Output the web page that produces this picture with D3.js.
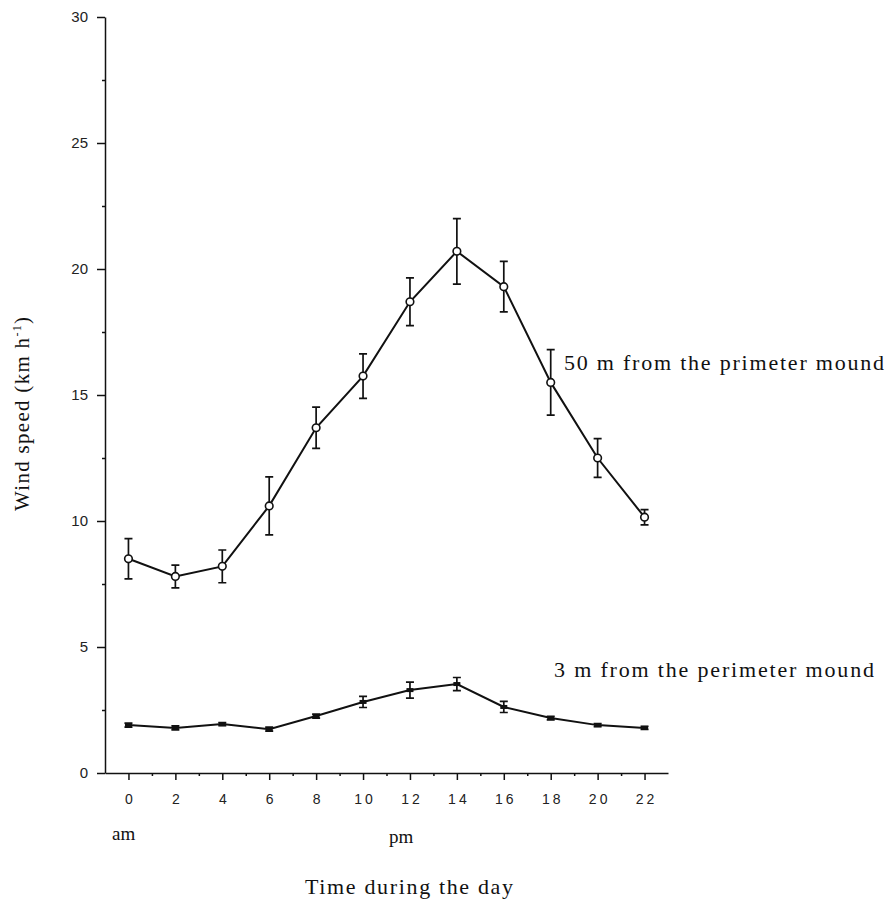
<!DOCTYPE html>
<meta charset="utf-8">
<style>
  html, body { margin: 0; padding: 0; background: #fff; overflow: hidden; }
  .axis path, .axis line { fill: none; stroke: #111; stroke-width: 1.5px; }
  .axis text { font: 15px "Liberation Sans", Arial, sans-serif; fill: #222; }
  .axis--x text { letter-spacing: 3px; font-size: 14px; }
  .serif { font-family: "Liberation Serif", "Times New Roman", serif; fill: #111; }
</style>
<svg></svg>
<script src="https://cdnjs.cloudflare.com/ajax/libs/d3/7.8.5/d3.min.js"></script>
<script>

var hours = [0, 2, 4, 6, 8, 10, 12, 14, 16, 18, 20, 22];
var far = [8.5, 7.8, 8.2, 10.6, 13.7, 15.75, 18.7, 20.7, 19.3, 15.5, 12.5, 10.15];
var farErr = [0.8, 0.45, 0.65, 1.15, 0.82, 0.88, 0.95, 1.3, 1.0, 1.3, 0.77, 0.3];
var near = [1.9, 1.79, 1.94, 1.74, 2.26, 2.82, 3.29, 3.53, 2.62, 2.18, 1.9, 1.79];
var nearErr = [0.08, 0.08, 0.06, 0.08, 0.08, 0.22, 0.32, 0.26, 0.22, 0.07, 0.06, 0.06];
var yTicks = [0, 5, 10, 15, 20, 25, 30];

var width = 888, height = 904;

var svg = d3.select("svg")
    .attr("width", width)
    .attr("height", height);

var x = d3.scaleLinear().domain([-1, 23]).range([105, 668]),
    y = d3.scaleLinear().domain([0, 30]).range([773, 17]);

// y axis, major + minor ticks
svg.append("g")
    .attr("class", "axis axis--y")
    .attr("transform", "translate(" + x(-1) + ",0)")
    .call(d3.axisLeft(y).tickValues(yTicks).tickSize(8).tickSizeOuter(0).tickPadding(9));

svg.append("g")
    .attr("class", "axis axis--y-minor")
    .attr("transform", "translate(" + x(-1) + ",0)")
    .call(d3.axisLeft(y).tickValues(d3.range(2.5, 30, 5)).tickSize(3).tickSizeOuter(0).tickFormat(""))
    .select(".domain").remove();

// x axis
svg.append("g")
    .attr("class", "axis axis--x")
    .attr("transform", "translate(0," + y(0) + ")")
    .call(d3.axisBottom(x).tickValues(hours).tickSize(7).tickSizeOuter(0).tickPadding(14));

svg.append("g")
    .attr("class", "axis axis--x-minor")
    .attr("transform", "translate(0," + y(0) + ")")
    .call(d3.axisBottom(x).tickValues(d3.range(1, 23, 2)).tickSize(3).tickSizeOuter(0).tickFormat(""))
    .select(".domain").remove();

svg.selectAll(".axis--x .tick text").attr("dx", "1.5px");

var farData = hours.map(function(h, i) { return {h: h, v: far[i], e: farErr[i]}; });
var nearData = hours.map(function(h, i) { return {h: h, v: near[i], e: nearErr[i]}; });

var line = d3.line()
    .x(function(d) { return x(d.h); })
    .y(function(d) { return y(d.v); });

function errorBars(data, cls) {
  var g = svg.append("g").attr("class", cls)
      .attr("stroke", "#111").attr("stroke-width", 1.7).attr("fill", "none");
  g.selectAll("path")
    .data(data)
    .enter().append("path")
      .attr("d", function(d) {
        var cx = x(d.h), t = y(d.v + d.e), b = y(d.v - d.e);
        return "M" + (cx - 4) + "," + t + "H" + (cx + 4) +
               "M" + cx + "," + t + "V" + b +
               "M" + (cx - 4) + "," + b + "H" + (cx + 4);
      });
}

// lines
svg.append("path")
    .datum(farData)
    .attr("fill", "none")
    .attr("stroke", "#111")
    .attr("stroke-width", 2)
    .attr("d", line);

svg.append("path")
    .datum(nearData)
    .attr("fill", "none")
    .attr("stroke", "#111")
    .attr("stroke-width", 2)
    .attr("d", line);

errorBars(farData, "err-far");
errorBars(nearData, "err-near");

svg.selectAll(".pt-far")
    .data(farData)
  .enter().append("circle")
    .attr("class", "pt-far")
    .attr("cx", function(d) { return x(d.h); })
    .attr("cy", function(d) { return y(d.v); })
    .attr("r", 3.8)
    .attr("fill", "#fff")
    .attr("stroke", "#111")
    .attr("stroke-width", 1.6);

svg.selectAll(".pt-near")
    .data(nearData)
  .enter().append("rect")
    .attr("class", "pt-near")
    .attr("x", function(d) { return x(d.h) - 3.5; })
    .attr("y", function(d) { return y(d.v) - 2; })
    .attr("width", 7)
    .attr("height", 4)
    .attr("fill", "#111");

// labels
svg.append("text")
    .attr("class", "serif")
    .attr("x", 564).attr("y", 370)
    .attr("textLength", 320)
    .style("font-size", "22px")
    .text("50 m from the primeter mound");

svg.append("text")
    .attr("class", "serif")
    .attr("x", 554).attr("y", 677)
    .attr("textLength", 320)
    .style("font-size", "22px")
    .text("3 m from the perimeter mound");

svg.append("text")
    .attr("class", "serif")
    .attr("x", 112).attr("y", 840)
    .style("font-size", "19px")
    .text("am");

svg.append("text")
    .attr("class", "serif")
    .attr("x", 389).attr("y", 843)
    .style("font-size", "19px")
    .text("pm");

svg.append("text")
    .attr("class", "serif")
    .attr("x", 409).attr("y", 894)
    .attr("text-anchor", "middle")
    .attr("textLength", 208)
    .style("font-size", "22px")
    .text("Time during the day");

var yl = svg.append("text")
    .attr("class", "serif")
    .attr("transform", "translate(29,414) rotate(-90)")
    .attr("text-anchor", "middle")
    .attr("textLength", 194)
    .style("font-size", "21px");
yl.append("tspan").text("Wind speed (km h");
yl.append("tspan").attr("dy", "-8").style("font-size", "12px").text("-1");
yl.append("tspan").attr("dy", "8").text(")");

</script>
